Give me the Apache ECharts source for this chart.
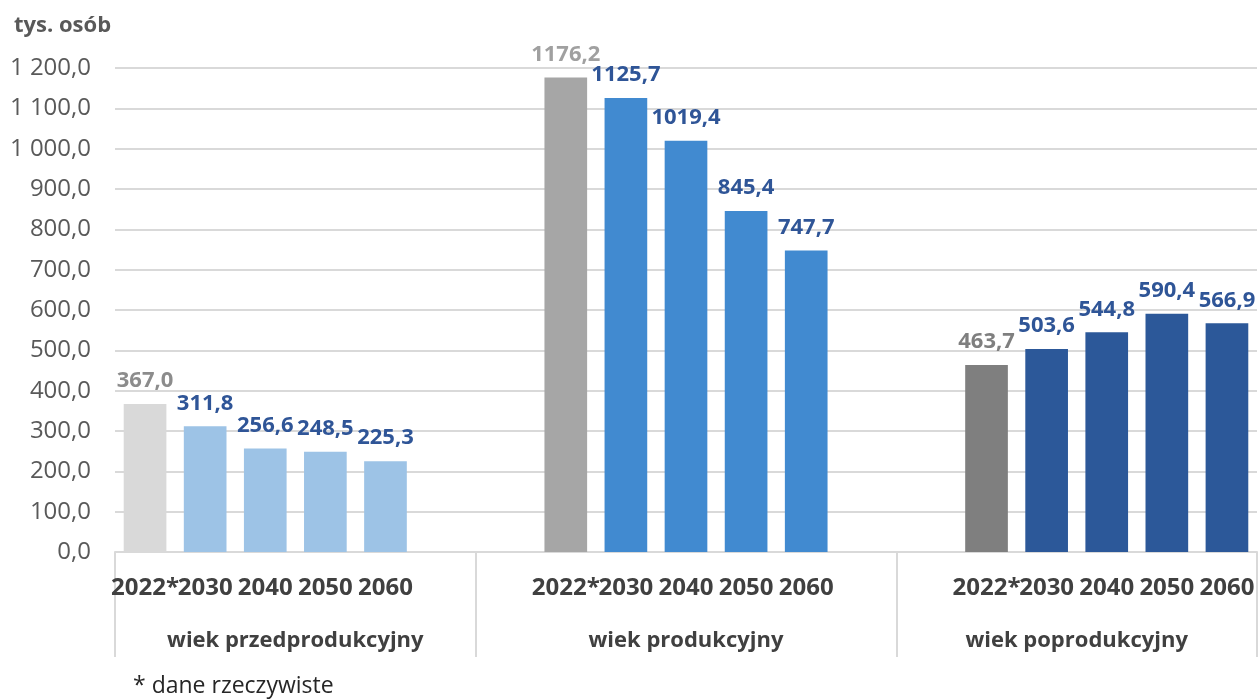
<!DOCTYPE html>
<html>
<head>
<meta charset="utf-8">
<script src="https://cdn.jsdelivr.net/npm/echarts@6/dist/echarts.min.js"></script>
<style>html,body{margin:0;padding:0;background:#fff}#c{width:1260px;height:699px}</style>
</head>
<body>
<div id="c"></div>
<script>
// ---- data ----
const years = ['2022*', '2030', '2040', '2050', '2060'];
const groups = ['wiek przedprodukcyjny', 'wiek produkcyjny', 'wiek poprodukcyjny'];
const przedprodukcyjny = [367.0, 311.8, 256.6, 248.5, 225.3];
const produkcyjny = [1176.2, 1125.7, 1019.4, 845.4, 747.7];
const poprodukcyjny = [463.7, 503.6, 544.8, 590.4, 566.9];
const yMin = 0, yMax = 1200, yStep = 100;
const unitLabel = 'tys. osób';
const footnote = '* dane rzeczywiste';

// ---- styles ----
const FONT = 'Open Sans';
const actualColors = ['#d9d9d9', '#a6a6a6', '#7f7f7f'];
const actualLabelColors = ['#8c8c8c', '#a0a0a0', '#7f7f7f'];
const projColors = ['#9dc3e6', '#418ad0', '#2c5899'];
const projLabelColor = '#2f5597';
const gridColor = '#d9d9d9';

const seriesByGroup = [przedprodukcyjny, produkcyjny, poprodukcyjny];

// build category slots: bars plus one empty slot on each inner side of a group
const cats = [];
const barData = [];
const boundaries = [0];
seriesByGroup.forEach((vals, g) => {
  if (g > 0) { cats.push(''); barData.push(null); }
  vals.forEach((v, i) => {
    cats.push(years[i]);
    barData.push({
      value: v,
      itemStyle: { color: i === 0 ? actualColors[g] : projColors[g] },
      label: { color: i === 0 ? actualLabelColors[g] : projLabelColor }
    });
  });
  if (g < seriesByGroup.length - 1) { cats.push(''); barData.push(null); }
  boundaries.push(cats.length);
});
// group axis on half-slot grid
const halfCats = new Array(cats.length * 2 + 1).fill('');
const tickIdx = boundaries.map(b => b * 2);
groups.forEach((name, g) => {
  halfCats[boundaries[g] + boundaries[g + 1]] = name;
});

const fmtAxis = v => {
  const s = v.toFixed(1).replace('.', ',');
  const [ip, dp] = s.split(',');
  return ip.replace(/\B(?=(\d{3})+(?!\d))/g, ' ') + ',' + dp;
};

const chart = echarts.init(document.getElementById('c'));
chart.setOption({
  animation: false,
  textStyle: { fontFamily: FONT },
  title: [
    { text: unitLabel, left: 9, top: 10,
      textStyle: { fontFamily: FONT, fontSize: 22, fontWeight: 'bold', color: '#595959' } },
    { text: footnote, left: 128, top: 670,
      textStyle: { fontFamily: FONT, fontSize: 23, fontWeight: 'normal', color: '#262626' } }
  ],
  grid: { left: 115, right: 0, top: 68, bottom: 147, containLabel: false },
  xAxis: [
    {
      type: 'category', data: cats, position: 'bottom',
      axisLine: { show: true, lineStyle: { color: gridColor, width: 2 } },
      axisTick: { show: false },
      axisLabel: { interval: 0, margin: 24, fontSize: 24, fontWeight: 'bold', color: '#404040', fontFamily: FONT },
      splitLine: { show: false }
    },
    {
      type: 'category', data: halfCats, position: 'bottom', boundaryGap: false,
      axisLine: { show: false },
      axisTick: { show: true, length: 105, interval: (idx) => tickIdx.includes(idx),
        lineStyle: { color: gridColor, width: 2 } },
      axisLabel: { interval: 0, margin: 78, fontSize: 22, fontWeight: 'bold', color: '#404040', fontFamily: FONT },
      splitLine: { show: false }
    }
  ],
  yAxis: {
    type: 'value', min: yMin, max: yMax, interval: yStep,
    axisLine: { show: false }, axisTick: { show: false },
    axisLabel: { formatter: fmtAxis, fontSize: 24, color: '#595959', margin: 24, fontFamily: FONT },
    splitLine: { lineStyle: { color: gridColor, width: 2 } }
  },
  series: [{
    type: 'bar', xAxisIndex: 0, data: barData, barWidth: '71%',
    label: { show: true, position: 'top', distance: 12, fontSize: 22, fontWeight: 'bold', fontFamily: FONT,
      formatter: p => p.value.toFixed(1).replace('.', ',') }
  }]
});
</script>
</body>
</html>
